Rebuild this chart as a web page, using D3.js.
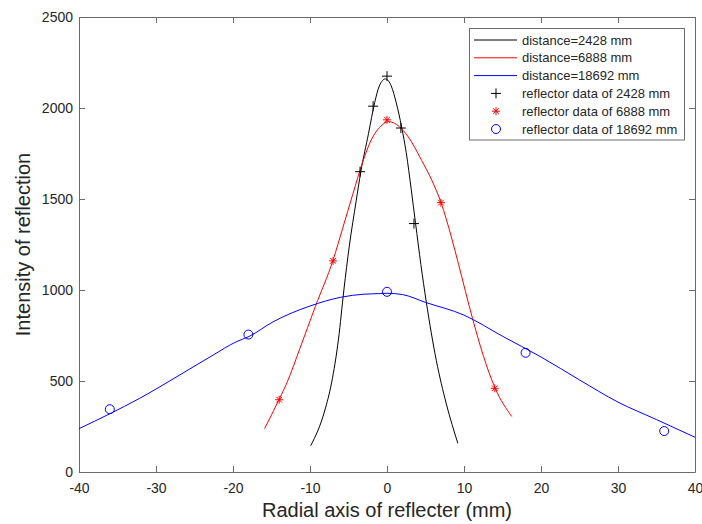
<!DOCTYPE html>
<html>
<head>
<meta charset="utf-8">
<script src="https://cdn.jsdelivr.net/npm/d3@7.9.0/dist/d3.min.js"></script>
<style>
  body { margin: 0; background: #fff; }
  text { font-family: "Liberation Sans", Arial, sans-serif; fill: #262626; }
</style>
</head>
<body>
<svg id="chart" width="702" height="524"></svg>
<script>
// fitted curves
const blackCurveX = [-9.9, -8.1, -7.2, -6.3, -5.6, -4.9, -4.0, -3.4, -2.4, -1.6, -1.0, -0.2, 0.55, 1.2, 1.9, 2.5, 3.15, 3.7, 4.4, 5.1, 6.4, 7.7, 9.2];
const blackCurveY = [145, 335, 490, 730, 1000, 1240, 1490, 1650, 1860, 2030, 2121, 2160, 2121, 2029, 1895, 1754, 1551, 1369, 1140, 935, 614, 375, 158];

const redCurveX = [-15.9, -14, -13, -11.3, -9.3, -7, -5.75, -4.45, -3.1, -2.1, -0.8, 0.2, 1, 2.7, 4.5, 5.8, 7, 8.4, 9.3, 11.1, 12.5, 14, 16.2];
const redCurveY = [238, 400, 490, 680, 910, 1165, 1340, 1525, 1710, 1820, 1900, 1925, 1915, 1845, 1712, 1605, 1482, 1285, 1140, 845, 640, 465, 305];

const blueCurveX = [-40, -36, -32.2, -27, -22.6, -19.6, -17.9, -14.8, -10, -6, -3, -1, 0, 2, 5, 10, 15, 20, 25, 30, 35, 40];
const blueCurveY = [238, 320, 403, 531, 642, 715, 745, 825, 912, 960, 977, 980, 982, 975, 932, 862, 746, 632, 506, 384, 288, 191];

// measured reflector data
const plusX = [-3.5, -1.8, 0, 1.8, 3.5];
const plusY = [1650, 2010, 2175, 1890, 1365];
const starX = [-14, -7, 0, 7, 14];
const starY = [397, 1160, 1935, 1480, 460];
const circleX = [-36, -18, 0, 18, 36];
const circleY = [345, 755, 990, 655, 225];

const xTicks = [-40, -30, -20, -10, 0, 10, 20, 30, 40];
const yTicks = [0, 500, 1000, 1500, 2000, 2500];

const legendLabels = [
    'distance=2428 mm',
    'distance=6888 mm',
    'distance=18692 mm',
    'reflector data of 2428 mm',
    'reflector data of 6888 mm',
    'reflector data of 18692 mm'
];

const svg = d3.select('#chart');
const plotLeft = 79, plotRight = 695, plotTop = 17, plotBottom = 472;

const x = d3.scaleLinear().domain([-40, 40]).range([plotLeft, plotRight]);
const y = d3.scaleLinear().domain([0, 2500]).range([plotBottom, plotTop]);

const axisColor = '#6a6a6a';
const plainNumber = d => String(d);

// axes with inward ticks, box on all four sides
function styleAxis(g) {
    g.selectAll('path.domain').attr('stroke', axisColor);
    g.selectAll('.tick line').attr('stroke', axisColor);
    g.selectAll('.tick text').attr('fill', '#262626').style('font-size', '14px')
        .style('font-family', '"Liberation Sans", Arial, sans-serif');
}

svg.append('g')
    .attr('transform', `translate(0,${plotBottom})`)
    .call(d3.axisBottom(x).tickValues(xTicks).tickFormat(plainNumber)
        .tickSizeInner(-6).tickSizeOuter(0).tickPadding(11))
    .call(styleAxis);

svg.append('g')
    .attr('transform', `translate(0,${plotTop})`)
    .call(d3.axisTop(x).tickValues(xTicks).tickSizeInner(-6).tickSizeOuter(0).tickFormat(''))
    .call(styleAxis);

svg.append('g')
    .attr('transform', `translate(${plotLeft},0)`)
    .call(d3.axisLeft(y).tickValues(yTicks).tickFormat(plainNumber)
        .tickSizeInner(-6).tickSizeOuter(0).tickPadding(6))
    .call(styleAxis);

svg.append('g')
    .attr('transform', `translate(${plotRight},0)`)
    .call(d3.axisRight(y).tickValues(yTicks).tickSizeInner(-6).tickSizeOuter(0).tickFormat(''))
    .call(styleAxis);

// axis titles
svg.append('text')
    .attr('x', (plotLeft + plotRight) / 2)
    .attr('y', 517)
    .attr('text-anchor', 'middle')
    .style('font-size', '20px')
    .text('Radial axis of reflecter (mm)');

svg.append('text')
    .attr('transform', `translate(30,${(plotTop + plotBottom) / 2}) rotate(-90)`)
    .attr('text-anchor', 'middle')
    .style('font-size', '20px')
    .text('Intensity of reflection');

// curves
const line = d3.line()
    .x(d => x(d[0]))
    .y(d => y(d[1]))
    .curve(d3.curveMonotoneX);

const curves = [
    { xs: blackCurveX, ys: blackCurveY, color: '#000000' },
    { xs: redCurveX, ys: redCurveY, color: '#ff0000' },
    { xs: blueCurveX, ys: blueCurveY, color: '#0000ff' }
];

curves.forEach(c => {
    svg.append('path')
        .datum(d3.zip(c.xs, c.ys))
        .attr('fill', 'none')
        .attr('stroke', c.color)
        .attr('stroke-width', 1)
        .attr('d', line);
});

// marker paths
function plusPath(s) {
    return `M${-s},0H${s}M0,${-s}V${s}`;
}
function starPath(s) {
    const d = s * 0.7071;
    return plusPath(s) + `M${-d},${-d}L${d},${d}M${-d},${d}L${d},${-d}`;
}

svg.append('g').selectAll('path')
    .data(d3.zip(plusX, plusY))
    .join('path')
    .attr('transform', d => `translate(${x(d[0])},${y(d[1])})`)
    .attr('d', plusPath(5))
    .attr('fill', 'none')
    .attr('stroke', '#000')
    .attr('stroke-width', 1);

svg.append('g').selectAll('path')
    .data(d3.zip(starX, starY))
    .join('path')
    .attr('transform', d => `translate(${x(d[0])},${y(d[1])})`)
    .attr('d', starPath(4))
    .attr('fill', 'none')
    .attr('stroke', '#ff0000')
    .attr('stroke-width', 1);

svg.append('g').selectAll('circle')
    .data(d3.zip(circleX, circleY))
    .join('circle')
    .attr('cx', d => x(d[0]))
    .attr('cy', d => y(d[1]))
    .attr('r', 4.5)
    .attr('fill', 'none')
    .attr('stroke', '#0000ff')
    .attr('stroke-width', 1);

// legend
const legend = svg.append('g');
legend.append('rect')
    .attr('x', 469.5).attr('y', 28.5)
    .attr('width', 215).attr('height', 111.5)
    .attr('fill', '#fff')
    .attr('stroke', axisColor);

const legendColors = ['#000000', '#ff0000', '#0000ff', '#000000', '#ff0000', '#0000ff'];
legendLabels.forEach((label, i) => {
    const cy = 40 + i * 17.8;
    if (i < 3) {
        legend.append('line')
            .attr('x1', 474).attr('x2', 517)
            .attr('y1', cy).attr('y2', cy)
            .attr('stroke', legendColors[i]);
    } else if (i === 3) {
        legend.append('path').attr('transform', `translate(496,${cy})`)
            .attr('d', plusPath(5)).attr('fill', 'none').attr('stroke', legendColors[i]);
    } else if (i === 4) {
        legend.append('path').attr('transform', `translate(496,${cy})`)
            .attr('d', starPath(4)).attr('fill', 'none').attr('stroke', legendColors[i]);
    } else {
        legend.append('circle').attr('cx', 496).attr('cy', cy).attr('r', 4.5)
            .attr('fill', 'none').attr('stroke', legendColors[i]);
    }
    legend.append('text')
        .attr('x', 522)
        .attr('y', cy)
        .attr('dy', '0.35em')
        .style('font-size', '13px')
        .text(label);
});
</script>
</body>
</html>
